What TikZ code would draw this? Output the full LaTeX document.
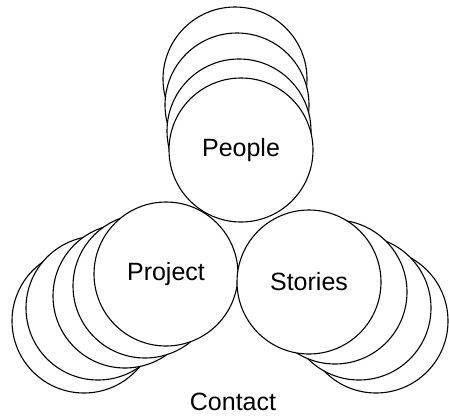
\documentclass[tikz,border=0pt]{standalone}
\usepackage{fontspec}
\setmainfont{Liberation Sans}

\begin{document}
\begin{tikzpicture}[x=1pt,y=-1pt, every node/.style={font=\fontsize{25}{30}\selectfont}, bubble/.style={circle,draw,fill=white,line width=1.1pt,minimum size=144pt,inner sep=0pt}]
  \useasboundingbox (0,0) rectangle (449,416);
  \node[bubble] (pe4) at (235,79) {};
  \node[bubble] (pe3) at (237,105) {};
  \node[bubble] (pe2) at (239,131) {};
  \node[bubble] (pe1) at (241,150) {People};

  \node[bubble] (pr5) at (84,321) {};
  \node[bubble] (pr4) at (98,308) {};
  \node[bubble] (pr3) at (125,296) {};
  \node[bubble] (pr2) at (145,286) {};
  \node[bubble] (pr1) at (166,274) {Project};

  \node[bubble] (st4) at (376,321) {};
  \node[bubble] (st3) at (359,308) {};
  \node[bubble] (st2) at (335,292) {};
  \node[bubble] (st1) at (309,282) {Stories};

  \node (contact) at (233,402) {Contact};
\end{tikzpicture}
\end{document}
